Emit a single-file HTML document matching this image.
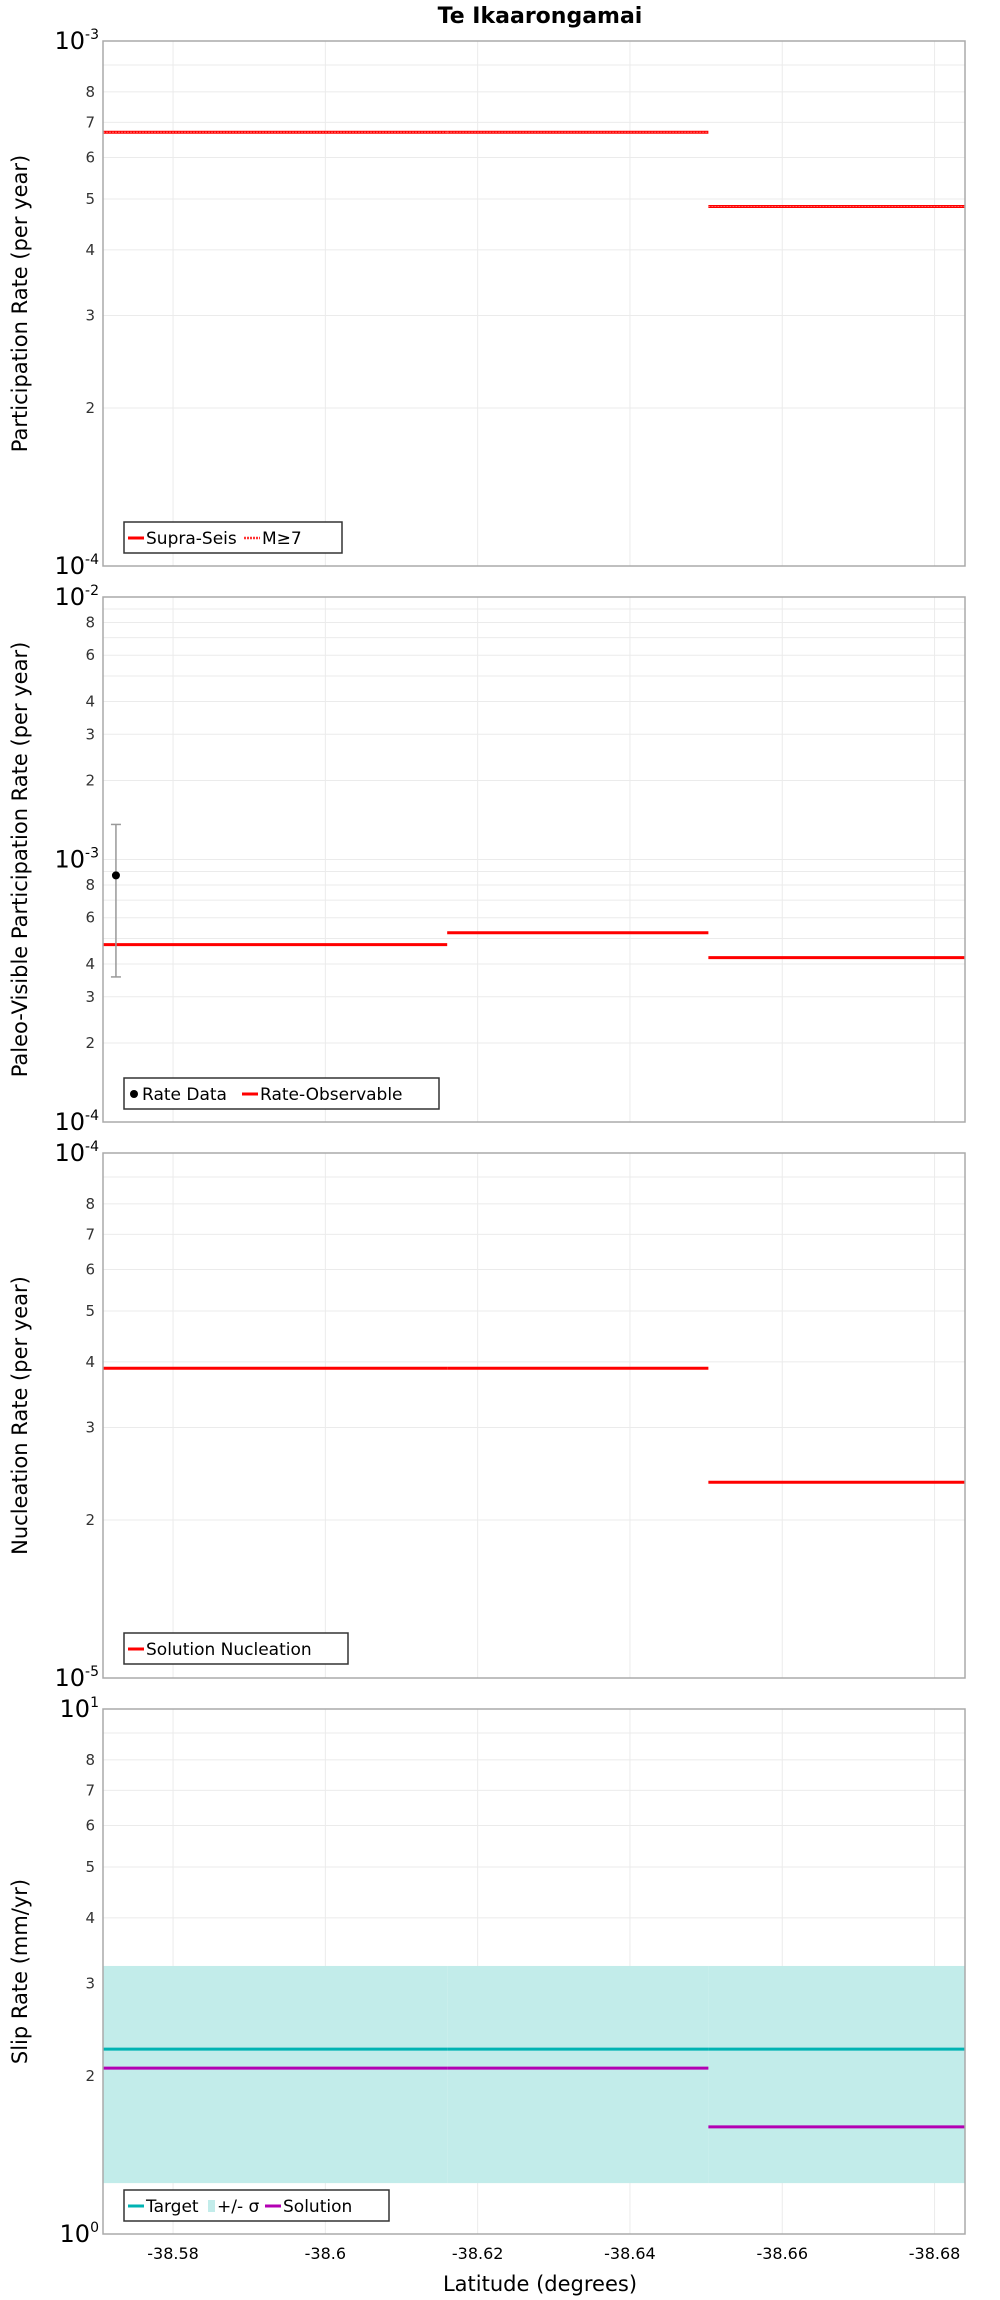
<!DOCTYPE html>
<html><head><meta charset="utf-8"><style>
body{margin:0;background:#fff}
svg{display:block;font-family:"DejaVu Sans","Liberation Sans",sans-serif}
</style></head><body>
<svg id="c" width="1000" height="2300" viewBox="0 0 1000 2300" xmlns="http://www.w3.org/2000/svg">
<text x="540" y="23" text-anchor="middle" font-size="22" font-weight="bold">Te Ikaarongamai</text>
</svg>
<script>
const xTicks=[-38.58,-38.6,-38.62,-38.64,-38.66,-38.68];
const xTickLabels=["-38.58","-38.6","-38.62","-38.64","-38.66","-38.68"];
const latMin=-38.5708, latMax=-38.684;
const segStart=[-38.5708,-38.6160,-38.6503];
const segEnd=[-38.6160,-38.6503,-38.684];
const p1Supra=[6.7e-4,6.7e-4,4.84e-4];
const p1M7=[6.7e-4,6.7e-4,4.84e-4];
const p2Obs=[4.74e-4,5.26e-4,4.23e-4];
const p2DataLat=[-38.5725];
const p2DataVal=[8.7e-4];
const p2DataLo=[3.57e-4];
const p2DataHi=[1.36e-3];
const p3Nuc=[3.89e-5,3.89e-5,2.36e-5];
const p4Target=[2.25,2.25,2.25];
const p4Lo=[1.25,1.25,1.25];
const p4Hi=[3.24,3.24,3.24];
const p4Sol=[2.07,2.07,1.60];

const NS="http://www.w3.org/2000/svg";
const svg=document.getElementById('c');
const L=103,R=965;
function X(lat){return L+(lat-latMin)/(latMax-latMin)*(R-L);}
function mk(tag,at,parent){const e=document.createElementNS(NS,tag);for(const k in at)e.setAttribute(k,at[k]);(parent||svg).appendChild(e);return e;}

const panels=[
 {top:41,bot:566,dmin:-4,dmax:-3,title:"Participation Rate (per year)",name:"participation"},
 {top:597,bot:1122,dmin:-4,dmax:-2,title:"Paleo-Visible Participation Rate (per year)",name:"paleo"},
 {top:1153,bot:1678,dmin:-5,dmax:-4,title:"Nucleation Rate (per year)",name:"nucleation"},
 {top:1709,bot:2234,dmin:0,dmax:1,title:"Slip Rate (mm/yr)",name:"slip"}
];
function Yf(p){return v=>p.bot-(Math.log10(v)-p.dmin)/(p.dmax-p.dmin)*(p.bot-p.top);}

panels.forEach((p,pi)=>{
 const Y=Yf(p);
 const g=mk('g',{});  
 const two=(p.dmax-p.dmin)>1;
 for(let d=p.dmin;d<p.dmax;d++){
  for(let m=2;m<=9;m++){
   const v=m*Math.pow(10,d), y=Y(v);
   const gl=mk('line',{x1:L,x2:R,y1:y,y2:y,stroke:'#ebebeb','stroke-width':1},g);
   
   const show=two?[2,3,4,6,8].includes(m):m<=8;
   if(show){const t=mk('text',{x:L-8,y:y+5,'text-anchor':'end','font-size':15,fill:'#333'},g);t.textContent=m;
    }
  }
 }
 for(let d=p.dmin;d<=p.dmax;d++){
  const y=Y(Math.pow(10,d));
  if(d>p.dmin&&d<p.dmax){const gl=mk('line',{x1:L,x2:R,y1:y,y2:y,stroke:'#ebebeb'},g);}
  const t=mk('text',{x:L-4,y:y+8,'text-anchor':'end','font-size':24,fill:'#000'},g);
  
  t.appendChild(document.createTextNode('10'));
  const s=document.createElementNS(NS,'tspan');s.setAttribute('dy','-10');s.setAttribute('font-size','14');s.textContent=String(d);t.appendChild(s);
 }
 xTicks.forEach((xt,i)=>{const gl=mk('line',{x1:X(xt),x2:X(xt),y1:p.top,y2:p.bot,stroke:'#ebebeb'},g);});
 const yt=mk('text',{x:0,y:0,'text-anchor':'middle','font-size':21,transform:`translate(27,${(p.top+p.bot)/2}) rotate(-90)`},g);
 yt.textContent=p.title;
 p.g=g;p.Y=Y;
});

function seg(p,vals,color,w,name,dash){
 vals.forEach((v,i)=>{const y=p.Y(v);const a={x1:X(segStart[i]),x2:X(segEnd[i]),y1:y,y2:y,stroke:color,'stroke-width':w};if(dash)a['stroke-dasharray']=dash;
  const l=mk('line',a,p.g);});
}
seg(panels[0],p1Supra,'#ff0000',3,'supra-seis-line');
seg(panels[0],p1M7,'#ff6666',1,'m7-line','2,1');
seg(panels[1],p2Obs,'#ff0000',3,'rate-observable-line');
p2DataVal.forEach((v,i)=>{const p=panels[1],x=X(p2DataLat[i]);
 const e=mk('line',{x1:x,x2:x,y1:p.Y(p2DataHi[i]),y2:p.Y(p2DataLo[i]),stroke:'#999','stroke-width':1.5},p.g);
 [p2DataHi[i],p2DataLo[i]].forEach(q=>{const c=mk('line',{x1:x-5,x2:x+5,y1:p.Y(q),y2:p.Y(q),stroke:'#999','stroke-width':1.5},p.g);});
 const d=mk('circle',{cx:x,cy:p.Y(v),r:4,fill:'#000'},p.g);
});
seg(panels[2],p3Nuc,'#ff0000',3,'solution-nucleation-line');
p4Lo.forEach((v,i)=>{const p=panels[3];const r=mk('rect',{x:X(segStart[i]),width:X(segEnd[i])-X(segStart[i]),y:p.Y(p4Hi[i]),height:p.Y(v)-p.Y(p4Hi[i]),fill:'#c2ecea'},p.g);
 });
seg(panels[3],p4Target,'#00b3b3',3,'target-line');
seg(panels[3],p4Sol,'#b300b3',3,'solution-line');

panels.forEach(p=>{const b=mk('rect',{x:L,y:p.top,width:R-L,height:p.bot-p.top,fill:'none',stroke:'#aaa','stroke-width':1.5},p.g);});

xTicks.forEach((xt,i)=>{const t=mk('text',{x:X(xt),y:2259,'text-anchor':'middle','font-size':16});t.textContent=xTickLabels[i];});
const xt=mk('text',{x:540,y:2291,'text-anchor':'middle','font-size':21});xt.textContent='Latitude (degrees)';

function legend(p,x,y,w,items,name){
 const g=mk('g',{},p.g);
 mk('rect',{x:x,y:y,width:w,height:31,fill:'#fff',stroke:'#333','stroke-width':1.5},g);
 let cx=x+4;
 items.forEach(it=>{
  if(it.type==='line'){const l=mk('line',{x1:cx,x2:cx+16,y1:y+16,y2:y+16,stroke:it.color,'stroke-width':it.w||3},g);if(it.dash)l.setAttribute('stroke-dasharray',it.dash);cx+=18;}
  else if(it.type==='dot'){mk('circle',{cx:cx+6,cy:y+16,r:4,fill:'#000'},g);cx+=14;}
  else {mk('rect',{x:cx,y:y+10,width:7,height:12,fill:it.color},g);cx+=9;}
  const t=mk('text',{x:cx,y:y+22,'font-size':17},g);t.textContent=it.label;cx+=it.tw;
 });
}
legend(panels[0],124,522,218,[{type:'line',color:'#ff0000',label:'Supra-Seis',tw:98},{type:'line',color:'#ff3333',dash:'2,1',w:2.5,label:'M≥7',tw:40}],'legend-participation');
legend(panels[1],124,1078,315,[{type:'dot',label:'Rate Data',tw:100},{type:'line',color:'#ff0000',label:'Rate-Observable',tw:160}],'legend-paleo');
legend(panels[2],124,1633,224,[{type:'line',color:'#ff0000',label:'Solution Nucleation',tw:190}],'legend-nucleation');
legend(panels[3],124,2190,265,[{type:'line',color:'#00b3b3',label:'Target',tw:62},{type:'rect',color:'#c2ecea',label:'+/- σ',tw:48},{type:'line',color:'#b300b3',label:'Solution',tw:80}],'legend-slip');
</script>
</body></html>
